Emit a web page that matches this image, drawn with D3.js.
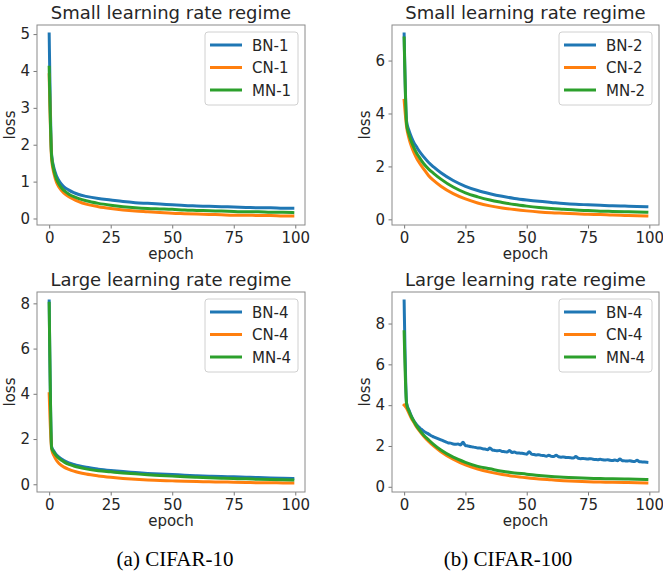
<!DOCTYPE html>
<html>
<head>
<meta charset="utf-8">
<script src="https://cdn.jsdelivr.net/npm/d3@7"></script>
<style>
  body { margin: 0; background: #fff; }
  svg text { font-family: "DejaVu Sans", sans-serif; fill: #262626; }
  .caption { font-family: "Liberation Serif", "Times New Roman", serif; fill: #000; }
</style>
</head>
<body>
<svg id="fig" width="663" height="576"></svg>
<script>
// ==========================================================================
// DATA
// ==========================================================================

var epochs = [0,1,2,3,4,5,6,8,10,12,15,20,25,30,35,40,45,50,55,60,65,70,75,80,85,90,95,99];
var epochsDense = d3.range(100);

// CIFAR-10, small learning rate
var bn1 = [5.0,1.72,1.35,1.15,1.02,0.93,0.86,0.77,0.70,0.65,0.60,0.54,0.50,0.46,0.43,0.41,0.39,0.37,0.35,0.34,0.33,0.32,0.31,0.30,0.29,0.29,0.28,0.28];
var cn1 = [3.9,1.6,1.2,0.98,0.85,0.76,0.69,0.59,0.52,0.46,0.39,0.32,0.27,0.23,0.20,0.18,0.16,0.14,0.13,0.12,0.11,0.10,0.09,0.09,0.08,0.08,0.07,0.07];
var mn1 = [4.1,1.68,1.28,1.06,0.93,0.83,0.76,0.66,0.59,0.54,0.48,0.41,0.36,0.32,0.29,0.27,0.26,0.25,0.23,0.22,0.21,0.20,0.19,0.18,0.18,0.17,0.17,0.16];

// CIFAR-100, small learning rate
var bn2 = [7.0,3.7,3.35,3.1,2.9,2.75,2.6,2.36,2.15,1.98,1.76,1.47,1.25,1.09,0.97,0.87,0.79,0.73,0.68,0.64,0.60,0.57,0.55,0.53,0.51,0.50,0.49,0.48];
var cn2 = [4.5,3.5,3.05,2.75,2.52,2.33,2.17,1.9,1.65,1.47,1.25,0.97,0.77,0.62,0.51,0.43,0.37,0.32,0.28,0.25,0.23,0.21,0.19,0.18,0.16,0.15,0.14,0.13];
var mn2 = [6.85,3.6,3.2,2.92,2.7,2.52,2.37,2.1,1.9,1.74,1.52,1.22,1.0,0.85,0.73,0.64,0.56,0.50,0.45,0.41,0.38,0.35,0.33,0.31,0.30,0.29,0.28,0.27];

// CIFAR-10, large learning rate
var bn3 = [8.1,1.65,1.45,1.3,1.2,1.12,1.05,0.95,0.88,0.82,0.75,0.67,0.61,0.56,0.52,0.48,0.45,0.43,0.40,0.38,0.36,0.34,0.33,0.31,0.30,0.28,0.27,0.26];
var cn3 = [4.0,1.55,1.25,1.05,0.92,0.83,0.76,0.66,0.58,0.52,0.45,0.37,0.31,0.26,0.22,0.19,0.17,0.15,0.13,0.12,0.11,0.10,0.09,0.08,0.07,0.07,0.06,0.06];
var mn3 = [8.0,1.6,1.4,1.25,1.14,1.06,0.99,0.88,0.81,0.75,0.68,0.60,0.55,0.50,0.46,0.42,0.39,0.36,0.33,0.31,0.29,0.27,0.25,0.24,0.22,0.21,0.20,0.19];

// CIFAR-100, large learning rate (BN-4 is noisy, one value per epoch)
var bn4 = [9.1,4.1,3.75,3.45,3.22,3.05,2.92,2.82,2.72,2.65,
           2.58,2.5,2.45,2.4,2.35,2.3,2.25,2.2,2.15,2.14,
           2.1,2.08,2.1,2.05,2.18,2.02,2.0,1.97,1.95,1.93,
           1.9,1.9,1.86,1.85,1.82,1.9,1.8,1.78,1.76,1.78,
           1.73,1.72,1.7,1.78,1.68,1.7,1.66,1.65,1.64,1.62,
           1.6,1.72,1.6,1.58,1.56,1.57,1.54,1.53,1.5,1.55,
           1.49,1.48,1.55,1.47,1.45,1.46,1.44,1.43,1.42,1.41,
           1.48,1.4,1.38,1.39,1.37,1.36,1.38,1.35,1.34,1.33,
           1.35,1.32,1.31,1.33,1.3,1.29,1.31,1.28,1.36,1.28,
           1.27,1.26,1.28,1.25,1.24,1.3,1.23,1.22,1.21,1.2];
var cn4 = [4.0,3.85,3.6,3.35,3.15,2.95,2.78,2.48,2.22,2.0,1.72,1.35,1.07,0.87,0.72,0.60,0.51,0.44,0.38,0.34,0.30,0.27,0.25,0.23,0.22,0.21,0.20,0.19];
var mn4 = [7.6,4.05,3.7,3.42,3.2,3.0,2.83,2.53,2.3,2.08,1.8,1.45,1.2,1.0,0.88,0.76,0.68,0.62,0.55,0.50,0.47,0.44,0.42,0.40,0.39,0.38,0.37,0.36];

var xTicks = [0, 25, 50, 75, 100];
var colors = ["#1f77b4", "#ff7f0e", "#2ca02c"];

var panels = [
  {title: "Small learning rate regime", box: {l: 37, r: 305, t: 25, b: 225}, yTicks: [0,1,2,3,4,5],
   names: ["BN-1","CN-1","MN-1"], series: [[epochs, bn1], [epochs, cn1], [epochs, mn1]]},
  {title: "Small learning rate regime", box: {l: 392, r: 659, t: 25, b: 225}, yTicks: [0,2,4,6],
   names: ["BN-2","CN-2","MN-2"], series: [[epochs, bn2], [epochs, cn2], [epochs, mn2]]},
  {title: "Large learning rate regime", box: {l: 37, r: 305, t: 292, b: 492}, yTicks: [0,2,4,6,8],
   names: ["BN-4","CN-4","MN-4"], series: [[epochs, bn3], [epochs, cn3], [epochs, mn3]]},
  {title: "Large learning rate regime", box: {l: 392, r: 659, t: 292, b: 492}, yTicks: [0,2,4,6,8],
   names: ["BN-4","CN-4","MN-4"], series: [[epochsDense, bn4], [epochs, cn4], [epochs, mn4]]}
];

var captions = [{text: "(a) CIFAR-10", x: 175}, {text: "(b) CIFAR-100", x: 508}];

// ==========================================================================
// D3 MAIN
// ==========================================================================

function drawPanel(svg, p) {
  var box = p.box;
  var allY = d3.merge(p.series.map(s => s[1]));
  var yMin = d3.min(allY), yMax = d3.max(allY);
  var pad = (yMax - yMin) * 0.05;

  var x = d3.scaleLinear().domain([-4.95, 103.95]).range([box.l, box.r]);
  var y = d3.scaleLinear().domain([yMin - pad, yMax + pad]).range([box.b, box.t]);

  var g = svg.append("g");

  // lines (BN drawn first, green last, like the reference)
  var line = d3.line().x(d => x(d[0])).y(d => y(d[1])).curve(d3.curveMonotoneX);
  p.series.forEach(function(s, i) {
    var pts = s[0].map((e, j) => [e, s[1][j]]);
    g.append("path").datum(pts)
      .attr("d", line)
      .attr("fill", "none")
      .attr("stroke", colors[i])
      .attr("stroke-width", 3)
      .attr("stroke-linejoin", "round")
      .attr("stroke-linecap", "square");
  });

  // axes
  var xAxis = d3.axisBottom(x).tickValues(xTicks).tickSize(3.5).tickPadding(3.5).tickFormat(d3.format("d"));
  var yAxis = d3.axisLeft(y).tickValues(p.yTicks).tickSize(3.5).tickPadding(3.5).tickFormat(d3.format("d"));

  var gx = g.append("g").attr("transform", "translate(0," + box.b + ")").call(xAxis);
  var gy = g.append("g").attr("transform", "translate(" + box.l + ",0)").call(yAxis);
  [gx, gy].forEach(function(a) {
    a.select(".domain").remove();
    a.selectAll("line").attr("stroke", "#555").attr("stroke-width", 0.8);
    a.selectAll("text").attr("font-size", 15).attr("fill", "#262626")
      .style("font-family", "DejaVu Sans");
  });

  // frame
  g.append("rect")
    .attr("x", box.l).attr("y", box.t)
    .attr("width", box.r - box.l).attr("height", box.b - box.t)
    .attr("fill", "none").attr("stroke", "#8a8a8a").attr("stroke-width", 1);

  // title and labels
  var cx = (box.l + box.r) / 2;
  g.append("text").attr("x", cx).attr("y", box.t - 6)
    .attr("text-anchor", "middle").attr("font-size", 18).text(p.title);
  g.append("text").attr("x", cx).attr("y", box.b + 34)
    .attr("text-anchor", "middle").attr("font-size", 15).text("epoch");
  g.append("text")
    .attr("transform", "translate(" + (box.l - 22) + "," + ((box.t + box.b) / 2) + ") rotate(-90)")
    .attr("text-anchor", "middle").attr("font-size", 15).text("loss");

  // legend
  var lg = g.append("g").attr("transform", "translate(" + (box.r - 100) + "," + (box.t + 7) + ")");
  lg.append("rect").attr("width", 93).attr("height", 73).attr("rx", 3)
    .attr("fill", "#fff").attr("fill-opacity", 0.8)
    .attr("stroke", "#d0d0d0").attr("stroke-width", 1);
  p.names.forEach(function(n, i) {
    var yy = 13 + i * 22.5;
    lg.append("line").attr("x1", 5).attr("x2", 37).attr("y1", yy).attr("y2", yy)
      .attr("stroke", colors[i]).attr("stroke-width", 3);
    lg.append("text").attr("x", 47).attr("y", yy + 5.5).attr("font-size", 15).text(n);
  });
}

var svg = d3.select("#fig");
panels.forEach(p => drawPanel(svg, p));

svg.selectAll(".caption").data(captions).enter().append("text")
  .attr("class", "caption")
  .attr("x", d => d.x).attr("y", 566)
  .attr("text-anchor", "middle")
  .attr("font-size", 21)
  .style("font-family", "'Liberation Serif', serif")
  .text(d => d.text);
</script>
</body>
</html>
